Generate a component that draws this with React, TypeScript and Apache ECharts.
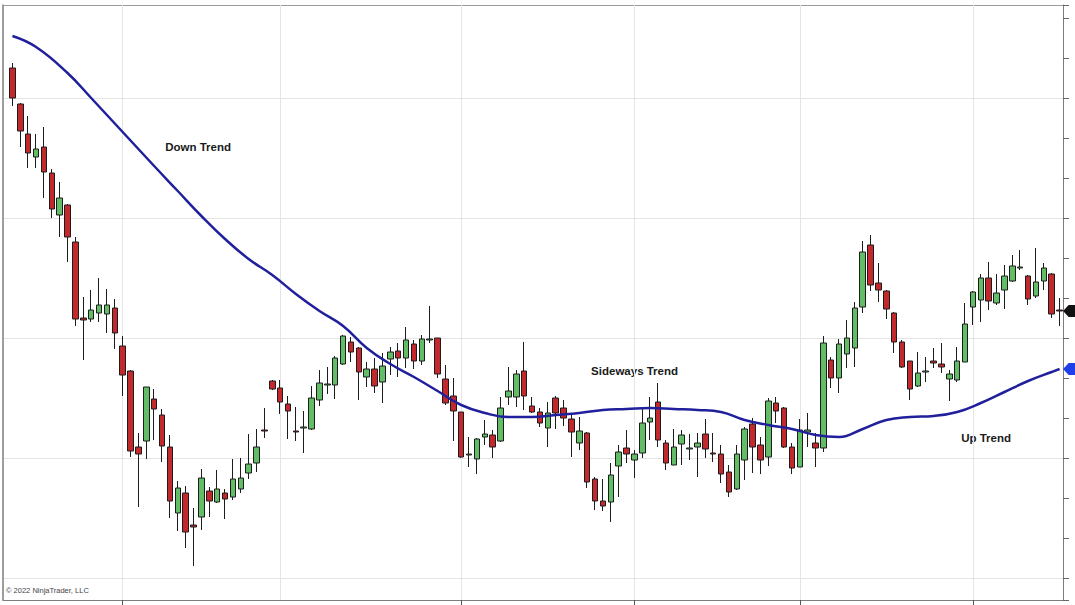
import React, { useEffect, useRef } from "react";
import * as echarts from "echarts";

// OHLC (price units on the right axis)
const opens = [
  4327.5, 4318.5, 4311, 4305.25, 4307.75, 4301.25, 4290.75, 4293.25, 4284, 4265,
  4264.75, 4266.25, 4266, 4267.5, 4258, 4251.75, 4232.75, 4234.25, 4244.75, 4240.75,
  4232.75, 4216.25, 4221.25, 4213.25, 4215.25, 4221.75, 4219, 4221.25, 4220.25, 4222.25,
  4226.25, 4228.75, 4237, 4249.25, 4247.5, 4243.5, 4236.75, 4237.5, 4237.25, 4244.5,
  4248.25, 4248.25, 4253.5, 4259, 4257.5, 4250.25, 4252.25, 4249, 4254.75, 4256.75,
  4255, 4258.5, 4254.25, 4259.5, 4260, 4249.75, 4245.5, 4241.5, 4230.75, 4229.75,
  4235.25, 4235.75, 4234.25, 4245.25, 4245.25, 4251.75, 4243, 4241.5, 4237.5, 4245,
  4242.5, 4239.75, 4233.75, 4236.25, 4224.75, 4219.25, 4219, 4228, 4232.5, 4229.5,
  4231.25, 4239, 4244, 4233.75, 4228.25, 4233.5, 4232.25, 4232.75, 4236, 4231.25,
  4231, 4226.5, 4222.25, 4229.5, 4238.5, 4233.25, 4230.25, 4243.75, 4242.5, 4232.75,
  4227.75, 4236.5, 4233.75, 4232.5, 4254.5, 4250, 4256, 4257.5, 4267.75, 4283.25,
  4273.75, 4271.75, 4266.25, 4259, 4254.25, 4248, 4251.5, 4254.25, 4253.5, 4249.75,
  4249.5, 4254, 4267.75, 4269.5, 4275, 4268.75, 4272, 4274.25, 4277.5, 4275.5,
  4270.5, 4274.25, 4276, 4267,
];
const closes = [
  4320, 4311.75, 4306.25, 4307.25, 4301.5, 4292.25, 4295, 4285.25, 4264.75, 4264.5,
  4267, 4268.25, 4268.25, 4261.25, 4250.75, 4231.75, 4231, 4247.75, 4242.25, 4233,
  4219.25, 4222.5, 4211.5, 4212.75, 4225, 4219.25, 4222.25, 4219.75, 4224.75, 4225,
  4228.5, 4232.75, 4236.75, 4247.25, 4244, 4241.75, 4236.5, 4237.75, 4245, 4248.75,
  4248.5, 4255, 4260.5, 4256.5, 4251.5, 4252.25, 4248, 4253, 4256.5, 4255,
  4259.5, 4254.25, 4259.75, 4259.75, 4251, 4243.75, 4241.75, 4230.25, 4231, 4234.75,
  4236, 4232.75, 4242.5, 4246.75, 4251, 4245.5, 4241.5, 4238.75, 4241.25, 4241.25,
  4240, 4236.5, 4236.75, 4224, 4219.25, 4218, 4225.75, 4231.5, 4231, 4231,
  4238.75, 4240, 4234.5, 4228.75, 4232.75, 4235.75, 4232.5, 4233.75, 4232.25, 4231,
  4226, 4221.5, 4231, 4237.25, 4232.75, 4229.5, 4244.25, 4241.75, 4232.75, 4227.5,
  4237, 4237, 4232.5, 4258.75, 4250, 4258.5, 4260, 4267.5, 4281.5, 4273.25,
  4272, 4267.25, 4259, 4252.75, 4247.25, 4251.25, 4251.75, 4253.75, 4252.75, 4251,
  4254.25, 4263.5, 4271.5, 4275, 4269.25, 4271.25, 4275.5, 4278, 4277.75, 4269.75,
  4274, 4277.5, 4266, 4266.75,
];
const lows = [
  4318, 4307.75, 4302.5, 4302.5, 4295, 4290, 4285.25, 4279, 4263, 4254.5,
  4264, 4264, 4261.25, 4257.25, 4245.5, 4230.25, 4217.75, 4229.75, 4234.5, 4229,
  4215, 4211.75, 4207.5, 4203, 4212, 4215.25, 4218.75, 4214.75, 4219.5, 4221.25,
  4224.75, 4226.5, 4235, 4247, 4241, 4234.75, 4234.25, 4231.25, 4237, 4243,
  4246, 4244.75, 4253.25, 4254, 4244.5, 4247.75, 4246.25, 4243.75, 4250.75, 4250.25,
  4252.5, 4252.25, 4253.25, 4258.75, 4250, 4243.25, 4234.25, 4230, 4227.75, 4226,
  4233.25, 4230, 4234, 4243.25, 4242.75, 4242, 4241.25, 4237.75, 4232.75, 4237.25,
  4238, 4230.25, 4232, 4222.5, 4217, 4216.75, 4214, 4220.25, 4228.75, 4225,
  4230, 4234.5, 4232.75, 4227, 4228.25, 4228.25, 4229.5, 4225.25, 4230, 4229,
  4223.75, 4220.25, 4222, 4224.5, 4226.25, 4226, 4228, 4238.75, 4232.5, 4226,
  4227.75, 4232.75, 4227.75, 4231.5, 4247.5, 4246.25, 4252.5, 4252.75, 4266.25, 4271.75,
  4269, 4264.75, 4256.25, 4252.5, 4244.5, 4247.75, 4249, 4252.5, 4251.25, 4244.25,
  4249, 4254, 4263.25, 4264, 4267, 4268.25, 4267.25, 4274, 4277, 4268.25,
  4270, 4272, 4265, 4263,
];
const highs = [
  4328.75, 4318.75, 4315.5, 4311, 4312.75, 4302.25, 4299, 4293.5, 4285.25, 4270.25,
  4272, 4275, 4272.25, 4269.75, 4260.5, 4252, 4236.25, 4247.75, 4247.25, 4242.25,
  4235.75, 4224.25, 4223, 4217.5, 4227.25, 4222.75, 4227, 4222.25, 4229.75, 4230,
  4236, 4237.25, 4242.5, 4249.5, 4249.5, 4245.5, 4242.75, 4241.75, 4248, 4252,
  4252.75, 4255.5, 4260.75, 4260.25, 4257.75, 4254, 4255, 4256.25, 4257.75, 4258.75,
  4262.75, 4259.5, 4260.75, 4268, 4260, 4253.25, 4250, 4241.5, 4235.25, 4235,
  4239.5, 4237, 4245.25, 4252.75, 4252, 4259, 4245.25, 4242.5, 4244, 4245.5,
  4244.5, 4240.75, 4240.25, 4236.5, 4225.25, 4224.75, 4228.75, 4233.25, 4237, 4232,
  4242.75, 4245.25, 4248.75, 4234.5, 4237.25, 4237, 4236, 4236.25, 4239.75, 4236.25,
  4233.25, 4228.25, 4233.25, 4237.75, 4240, 4235.25, 4245, 4245.25, 4242.75, 4233.75,
  4239.75, 4241.25, 4236.25, 4260.5, 4255.25, 4259.75, 4264.5, 4269, 4284.25, 4285.75,
  4278.75, 4272, 4266.5, 4259.5, 4254.25, 4256.5, 4255.25, 4257.5, 4258.75, 4252,
  4257.75, 4268.75, 4271.75, 4276, 4279, 4276, 4278.25, 4280.75, 4282, 4275.75,
  4282.5, 4278.75, 4276.25, 4270,
];

// Moving average, read at these bar positions
const maBars = [
  0, 3, 7, 10, 14, 18, 21, 24, 27, 30, 33, 36, 39, 42, 45, 48, 51, 54, 57, 60,
  63, 66, 69, 72, 75, 78, 81, 84, 87, 90, 93, 96, 99, 102, 105, 108, 111, 114, 117, 120,
  123, 126, 129, 132, 133,
];
const maValues = [
  4335.5, 4332.75, 4326.25, 4320, 4311.5, 4303, 4296.75, 4290.5, 4284.75, 4279.75,
  4275.75, 4271, 4266.75, 4263, 4257.5, 4253.5, 4250.25, 4246.75, 4243.25, 4241.25,
  4240.25, 4240.25, 4240.75, 4241.25, 4242, 4242.25, 4242.5, 4242.25, 4242, 4241.5,
  4239.5, 4238.25, 4237.25, 4235.75, 4235.25, 4237.25, 4239.5, 4240.25, 4240.5, 4241.5,
  4243.75, 4246.5, 4249.25, 4251.5, 4252.25,
];

// Session boundaries (vertical grid lines) and the ticks under the time axis
const sessionBreaks = [14, 34, 57, 79, 100, 122];
const timeTicks = [14, 57, 79, 100, 122];

const annotations = [
  { text: "Down Trend", bar: 19.4, price: 4307.75 },
  { text: "Sideways Trend", bar: 73.5, price: 4251.75 },
  { text: "Up Trend", bar: 120.5, price: 4235 },
];

const Y_MIN = 4194.5;
const Y_MAX = 4343.25;

export default function App() {
  const ref = useRef<HTMLDivElement>(null);

  useEffect(() => {
    if (!ref.current) return;
    const chart = echarts.init(ref.current, undefined, { renderer: "svg" });
    const bars = opens.map((_, i) => String(i + 1));
    const candleData = opens.map((o, i) => [o, closes[i], lows[i], highs[i]]);
    const maData = maBars.map((b, k) => [b, maValues[k]]);
    const last = opens.length - 1;
    const frame = "#7d7d7d";
    const grid = "#e4e4e4";
    const tag = "path://M0,6L6,0L14,0L14,12L6,12Z";
    const font = '"Liberation Sans", Arial, sans-serif';

    chart.setOption({
      animation: false,
      backgroundColor: "#ffffff",
      grid: [
        { left: 3, right: 12, top: 5, bottom: 5 },
        { left: 8.5, right: 11.5, top: 5, bottom: 5 },
      ],
      xAxis: [
        {
          gridIndex: 0, type: "value", min: 0, max: 1, position: "bottom",
          axisLine: { show: true, onZero: false, lineStyle: { color: frame } },
          axisTick: { show: false }, axisLabel: { show: false }, splitLine: { show: false },
        },
        {
          gridIndex: 0, type: "value", min: 0, max: 1, position: "top",
          axisLine: { show: true, onZero: false, lineStyle: { color: "#9a9a9a" } },
          axisTick: { show: false }, axisLabel: { show: false }, splitLine: { show: false },
        },
        {
          gridIndex: 1, type: "category", data: bars, boundaryGap: true, position: "bottom",
          axisLine: { show: false, onZero: false },
          axisTick: {
            show: true, alignWithLabel: true, length: 6,
            interval: (i: number) => timeTicks.includes(i),
            lineStyle: { color: "#555" },
          },
          axisLabel: { show: false }, splitLine: { show: false },
        },
      ],
      yAxis: [
        {
          gridIndex: 0, type: "value", position: "right", min: Y_MIN, max: Y_MAX,
          minInterval: 10, maxInterval: 10,
          axisLine: { show: true, onZero: false, lineStyle: { color: frame } },
          axisTick: { show: true, length: 6, lineStyle: { color: "#666" } },
          axisLabel: { show: false }, splitLine: { show: false },
        },
        {
          gridIndex: 0, type: "value", position: "right", min: Y_MIN, max: Y_MAX,
          minInterval: 30, maxInterval: 30,
          axisLine: { show: false, onZero: false }, axisTick: { show: false },
          axisLabel: { show: false },
          splitLine: { show: true, lineStyle: { color: grid, width: 1 } },
        },
        {
          gridIndex: 0, type: "value", position: "left", min: Y_MIN, max: Y_MAX,
          axisLine: { show: true, onZero: false, lineStyle: { color: frame, width: 1.5 } },
          axisTick: { show: false }, axisLabel: { show: false }, splitLine: { show: false },
        },
        {
          gridIndex: 1, type: "value", min: Y_MIN, max: Y_MAX, show: false,
          axisLine: { onZero: false }, splitLine: { show: false },
        },
      ],
      series: [
        {
          type: "candlestick",
          xAxisIndex: 2,
          yAxisIndex: 3,
          data: candleData,
          barWidth: 6,
          z: 3,
          itemStyle: {
            color: "#63bd67",
            color0: "#c3282c",
            borderColor: "#1c1c1c",
            borderColor0: "#1c1c1c",
            borderWidth: 1,
          },
          markLine: {
            silent: true,
            z: 1,
            symbol: ["none", "none"],
            label: { show: false },
            lineStyle: { color: grid, type: "solid", width: 1 },
            emphasis: { disabled: true },
            data: sessionBreaks.map((b) => ({ xAxis: b })),
          },
          markPoint: {
            silent: true,
            data: [
              {
                coord: [last, closes[last]],
                symbol: tag,
                symbolSize: [13, 12],
                symbolOffset: [10, 0],
                itemStyle: { color: "#111111" },
                label: { show: false },
              },
            ],
          },
        },
        {
          type: "line",
          xAxisIndex: 2,
          yAxisIndex: 3,
          data: maData,
          smooth: 0.45,
          showSymbol: false,
          z: 4,
          lineStyle: { color: "#20209c", width: 2.5 },
          markPoint: {
            silent: true,
            data: [
              {
                coord: [last, maValues[maValues.length - 1]],
                symbol: tag,
                symbolSize: [13, 12],
                symbolOffset: [10, 0],
                itemStyle: { color: "#1f3fe8" },
                label: { show: false },
              },
            ],
          },
        },
      ],
    });

    // place annotations between bars: interpolate the category positions
    const texts = annotations.map((a) => {
      const b0 = Math.floor(a.bar);
      const f = a.bar - b0;
      const p0 = chart.convertToPixel({ xAxisIndex: 2, yAxisIndex: 3 }, [b0, a.price]);
      const p1 = chart.convertToPixel({ xAxisIndex: 2, yAxisIndex: 3 }, [b0 + 1, a.price]);
      return {
        type: "text", x: p0[0] + (p1[0] - p0[0]) * f, y: p0[1], silent: true,
        style: {
          text: a.text, font: `bold 11.5px ${font}`, fill: "#1a1a1a",
          textAlign: "left", textVerticalAlign: "middle", verticalAlign: "middle",
        },
      };
    });
    chart.setOption({
      graphic: [
        {
          type: "text", left: 6, top: 586, silent: true,
          style: { text: "© 2022 NinjaTrader, LLC", font: `7.5px ${font}`, fill: "#444" },
        },
        ...texts,
      ],
    });

    return () => chart.dispose();
  }, []);

  return (
    <div
      ref={ref}
      style={{ position: "absolute", left: 0, top: 0, width: 1075, height: 605 }}
    />
  );
}
